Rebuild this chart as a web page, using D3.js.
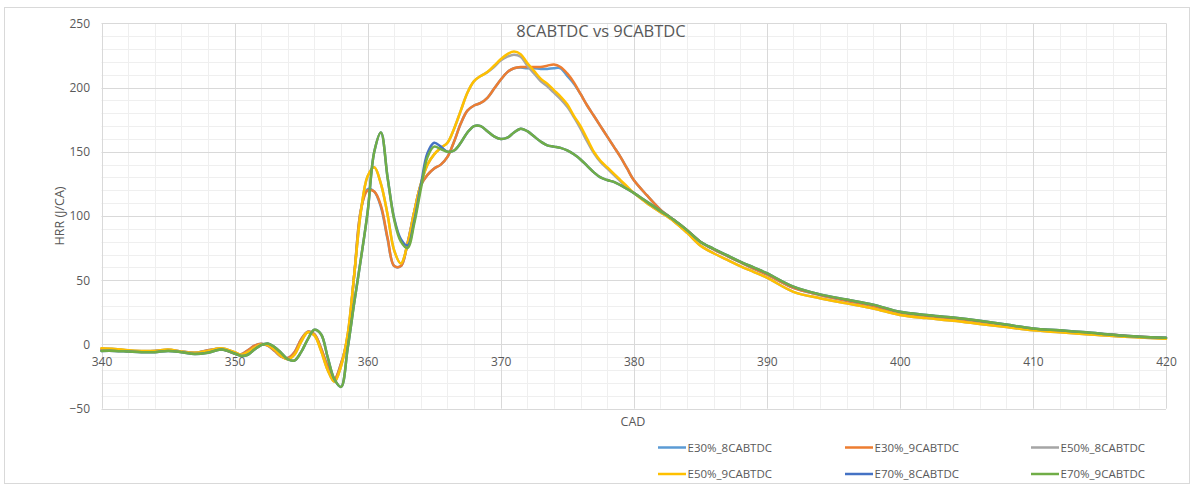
<!DOCTYPE html>
<html>
<head>
<meta charset="utf-8">
<script src="https://cdn.jsdelivr.net/npm/d3@7"></script>
<style>
  html, body { margin: 0; padding: 0; background: #ffffff; }
  svg { display: block; }
  text { font-family: "Open Sans", "Liberation Sans", sans-serif; fill: #595959; }
</style>
</head>
<body>
<script>
// ---- data ----
const cad = [340,341,342,343,344,345,346,347,348,349,
  350,350.5,351,351.5,352,352.5,353,353.5,354,354.5,
  355,355.5,356,356.5,357,357.5,358,358.5,359,359.5,
  360,360.5,361,361.5,362,362.5,363,363.5,364,364.5,
  365,365.5,366,366.5,367,367.5,368,368.5,369,369.5,
  370,370.5,371,371.5,372,372.5,373,373.5,374,374.5,
  375,375.5,376,376.5,377,377.5,378,378.5,379,379.5,
  380,381,382,383,384,385,386,387,388,389,390,
  392,394,396,398,400,402,404,406,408,410,412,414,416,418,420];

const e30_8 = [-4,-4,-5,-5.5,-5,-4.5,-5.5,-6.5,-4.5,-3.5,
  -7,-7.5,-4.5,-1,0.5,-1,-5,-9.5,-10.5,-6,
  4,10,8,-3,-17,-27,-15,6,55,105,
  121,119,107,82,61,61,79,103,124,132,
  137,140,146,158,172,182,186,188,192,199,
  206,212,215,215.5,215,215,214.5,214.5,215,215,
  209,203,195,186,178,170,162,154,146,137,
  128,116,105,97,89,80,74,69,64,59,54.5,
  44,38.5,34,30,24.5,22,20,17.5,14.5,12,10.5,9,7.5,6,5];

const e30_9 = [-4,-4,-5,-5.5,-5,-4.5,-5.5,-6.5,-4.5,-3.5,
  -7,-7.5,-4.5,-1,0.5,-1,-5,-9.5,-10.5,-6,
  4,10,8,-3,-17,-27,-15,6,55,105,
  120,119,108,83,61,61,79,103,124,132,
  137,140,146,158,172,182,186,188,192,199,
  206,212,215,216,216,216,216,217,218,216,
  211,204,195,186,178,170,162,154,146,137,
  128,116,105,97,89,80,74,69,64,59,54.5,
  44,38.5,34,30,24.5,22,20,17.5,14.5,12,10.5,9,7.5,6,5];

const e50_8 = [-3,-3.5,-4.5,-5,-5,-4,-5.5,-6.5,-5,-3,
  -6,-8,-6,-2.5,0,-0.5,-4,-9,-11.5,-8,
  2,9.5,7,-5,-20,-29,-17,8,55,104,
  131,138,125,101,73,63,78,103,125,140,
  148,153,157,168,182,196,205,209,212,216,
  221,224,225.5,224,217,211,205,201,196,191,
  185,177,168,158,149,142,137,132,127,122,
  118,110,103,96,87,77,71,66,61,56.5,52,
  41,36,32,28,23,20.5,18.5,16,13.5,11,9.5,8,6.5,5.5,4.5];

const e50_9 = [-3,-3.5,-4.5,-5,-5,-4,-5.5,-6.5,-5,-3,
  -6,-8,-6,-2.5,0,-0.5,-4,-9,-11.5,-8,
  2,9.5,7,-5,-20,-29,-17,8,55,104,
  131,138,125,101,73,63,78,103,125,140,
  148,153,157,168,182,196,205,209,212,217,
  222,226,228,226,219,213,207,203,198,193,
  187,178,170,160,150,143,138,133,128,123,
  118,110,103,96,87,77,71,66,61,56.5,52,
  41,36,32,28,23,20.5,18.5,16,13.5,11,9.5,8,6.5,5.5,4.5];

const e70_8 = [-5,-5,-5.5,-6,-6,-5,-6,-7.5,-6.5,-4,
  -7,-9,-8,-4,-0.5,0.8,-2,-6.5,-11.5,-12.5,
  -6,4,11.5,8,-10,-27,-33,-3,33,67,
  103,150,165,130,98,82,77,96,124,149,
  157,154,150,151,157,165,170,170,166,162,
  160,161,165,168,166,162,158,155,154,153,
  151,148,144,139,134,130,128,126.5,124,121,
  118,111,104,97,89,80,74.5,69.5,64.5,60,55.5,
  45,39,35,31,25.5,23,21,18.5,15.5,12.5,11,9.5,7.5,6,5.3];

const e70_9 = [-5,-5,-5.5,-6,-6,-5,-6,-7.5,-6.5,-4,
  -7,-9,-8,-4,-0.5,0.8,-2,-6.5,-11.5,-12.5,
  -6,4,11.5,8,-10,-27,-33,-3,33,67,
  103,150,165,130,97,80,75,94,121,146,
  154,152,150,151,157,165,170,170,166,162,
  160,161,165,168,166,162,158,155,154,153,
  151,148,144,139,134,130,128,126.5,124,121,
  118,111,104,97,89,80,74.5,69.5,64.5,60,55.5,
  45,39,35,31,25.5,23,21,18.5,15.5,12.5,11,9.5,7.5,6,5.3];

const seriesNames = ["E30%_8CABTDC","E30%_9CABTDC","E50%_8CABTDC","E50%_9CABTDC","E70%_8CABTDC","E70%_9CABTDC"];
const seriesValues = [e30_8, e30_9, e50_8, e50_9, e70_8, e70_9];
const seriesColors = ["#5B9BD5","#ED7D31","#A5A5A5","#FFC000","#4472C4","#70AD47"];
const xTicks = [340,350,360,370,380,390,400,410,420];
const yTicks = [-50,0,50,100,150,200,250];
const titleText = "8CABTDC vs 9CABTDC";
const xTitle = "CAD";
const yTitle = "HRR (J/CA)";

// ---- chart ----
const W = 1195, H = 485;
const svg = d3.select("body").append("svg").attr("width", W).attr("height", H);

svg.append("rect").attr("x", 4.5).attr("y", 7.5).attr("width", 1185).attr("height", 476)
  .attr("fill", "#ffffff").attr("stroke", "#d9d9d9").attr("stroke-width", 1);

const x = d3.scaleLinear().domain([340, 420]).range([101.5, 1166]);
const y = d3.scaleLinear().domain([-50, 250]).range([408.7, 23.3]);

const snap = v => Math.round(v) + 0.5;

// minor gridlines
const grid = svg.append("g");
const minorX = d3.range(340, 421, 2).filter(v => v % 10 !== 0);
const minorY = d3.range(-50, 251, 10).filter(v => v % 50 !== 0);
grid.selectAll("line.mx").data(minorX).join("line")
  .attr("x1", d => snap(x(d))).attr("x2", d => snap(x(d)))
  .attr("y1", y(250)).attr("y2", y(-50))
  .attr("stroke", "#efefef").attr("stroke-width", 1);
grid.selectAll("line.my").data(minorY).join("line")
  .attr("y1", d => snap(y(d))).attr("y2", d => snap(y(d)))
  .attr("x1", x(340)).attr("x2", x(420))
  .attr("stroke", "#efefef").attr("stroke-width", 1);
// major gridlines
grid.selectAll("line.Mx").data(xTicks).join("line")
  .attr("x1", d => snap(x(d))).attr("x2", d => snap(x(d)))
  .attr("y1", y(250)).attr("y2", y(-50))
  .attr("stroke", "#d9d9d9").attr("stroke-width", 1);
grid.selectAll("line.My").data(yTicks).join("line")
  .attr("y1", d => snap(y(d))).attr("y2", d => snap(y(d)))
  .attr("x1", x(340)).attr("x2", x(420))
  .attr("stroke", "#d9d9d9").attr("stroke-width", 1);

// title
svg.append("text").attr("x", 601).attr("y", 37).attr("text-anchor", "middle")
  .style("font-size", "16.5px").text(titleText);

// axes
const yAxis = svg.append("g").attr("transform", `translate(${x(340)},0)`)
  .call(d3.axisLeft(y).tickValues(yTicks).tickSize(0).tickPadding(11.5));
yAxis.select(".domain").remove();
yAxis.selectAll("text").style("font-size", "12px").attr("fill", "#595959")
  .style("font-family", '"Open Sans", sans-serif');

const xAxis = svg.append("g").attr("transform", `translate(0,${y(0)})`)
  .call(d3.axisBottom(x).tickValues(xTicks).tickSize(0).tickPadding(13).tickFormat(d3.format("d")));
xAxis.select(".domain").remove();
xAxis.selectAll("text").style("font-size", "12px").attr("fill", "#595959")
  .style("font-family", '"Open Sans", sans-serif');

// axis titles
svg.append("text").attr("x", 633).attr("y", 425.5).attr("text-anchor", "middle")
  .style("font-size", "12.5px").text(xTitle);
svg.append("text").attr("transform", `translate(64,${(y(250)+y(-50))/2}) rotate(-90)`)
  .attr("text-anchor", "middle").style("font-size", "12.5px").text(yTitle);

// series
const line = d3.line()
  .x((d, i) => x(cad[i]))
  .y(d => y(d))
  .curve(d3.curveCatmullRom.alpha(0.5));

svg.append("g").selectAll("path").data(seriesValues).join("path")
  .attr("d", d => line(d))
  .attr("fill", "none")
  .attr("stroke", (d, i) => seriesColors[i])
  .attr("stroke-width", 2.5)
  .attr("stroke-linejoin", "round")
  .attr("stroke-linecap", "round");

// legend
const legX = [658, 845, 1031];
const legY = [447.5, 474];
const leg = svg.append("g").selectAll("g").data(seriesNames).join("g")
  .attr("transform", (d, i) => `translate(${legX[i % 3]},${legY[Math.floor(i / 3)]})`);
leg.append("line").attr("x1", 0).attr("x2", 28).attr("y1", 0).attr("y2", 0)
  .attr("stroke", (d, i) => seriesColors[i]).attr("stroke-width", 2.5);
leg.append("text").attr("x", 29.5).attr("y", 0).attr("dy", "0.35em")
  .style("font-size", "11.5px").text(d => d);
</script>
</body>
</html>
